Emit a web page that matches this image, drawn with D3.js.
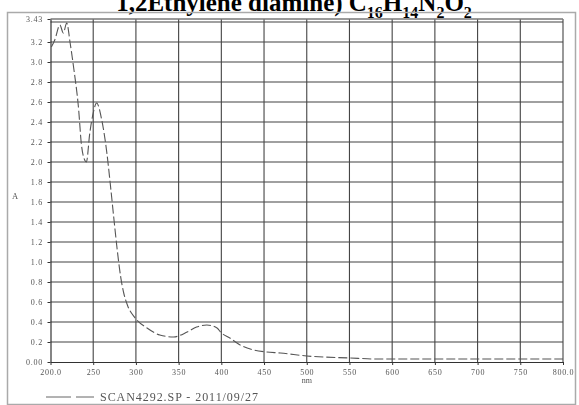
<!DOCTYPE html>
<html>
<head>
<meta charset="utf-8">
<script src="https://cdn.jsdelivr.net/npm/d3@7/dist/d3.min.js"></script>
<style>
  html, body { margin: 0; padding: 0; background: #fff; }
  svg { display: block; }
</style>
</head>
<body>
<svg id="chart" width="579" height="405"></svg>
<script>
// Absorbance spectrum, wavelength in nm
const wavelengths = [201, 205, 211, 215, 219, 223, 227, 233, 236, 240, 242, 246, 250, 254, 260, 266, 270,
  274, 278, 282, 286, 290, 299, 313, 328, 344, 360, 371, 383, 395, 399, 410, 422, 438, 453, 469, 500, 551, 582, 629,
  650, 700, 750, 800];
const absorbance = [3.15, 3.22, 3.37, 3.29, 3.39, 3.19, 2.95, 2.52, 2.19, 2.02, 2.00, 2.29, 2.49, 2.59, 2.42, 2.09, 1.78,
  1.45, 1.13, 0.86, 0.68, 0.57, 0.44, 0.34, 0.27, 0.25, 0.30, 0.35, 0.37, 0.34, 0.30, 0.24, 0.17, 0.12, 0.10, 0.09, 0.06, 0.04, 0.03, 0.03,
  0.03, 0.03, 0.03, 0.03];

const xTickValues = [200, 250, 300, 350, 400, 450, 500, 550, 600, 650, 700, 750, 800];
const xTickLabels = ["200.0", "250", "300", "350", "400", "450", "500", "550", "600", "650", "700", "750", "800.0"];
const yTickValues = [0, 0.2, 0.4, 0.6, 0.8, 1.0, 1.2, 1.4, 1.6, 1.8, 2.0, 2.2, 2.4, 2.6, 2.8, 3.0, 3.2, 3.43];
const yTickLabels = ["0.00", "0.2", "0.4", "0.6", "0.8", "1.0", "1.2", "1.4", "1.6", "1.8", "2.0", "2.2", "2.4", "2.6", "2.8", "3.0", "3.2", "3.43"];
const yGridValues = [0.2, 0.4, 0.6, 0.8, 1.0, 1.2, 1.4, 1.6, 1.8, 2.0, 2.2, 2.4, 2.6, 2.8, 3.0, 3.2, 3.4];

const legendLabel = "SCAN4292.SP - 2011/09/27";

const svg = d3.select("#chart");

const x = d3.scaleLinear().domain([200, 800]).range([50.5, 563]);
const y = d3.scaleLinear().domain([0, 3.43]).range([362, 19]);

// soft look of a scanned print
const defs = svg.append("defs");
defs.append("filter").attr("id", "soft")
  .append("feGaussianBlur").attr("stdDeviation", 0.45);

// title (partly above the top edge)
const title = svg.append("text")
  .attr("x", 294).attr("y", 11)
  .attr("text-anchor", "middle")
  .attr("font-family", "'Liberation Serif', 'Times New Roman', serif")
  .attr("font-weight", "bold")
  .attr("font-size", 25)
  .attr("fill", "#000");
title.append("tspan").text("1,2Ethylene diamine) C");
title.append("tspan").attr("font-size", 16).attr("dy", 7).text("16");
title.append("tspan").attr("dy", -7).text("H");
title.append("tspan").attr("font-size", 16).attr("dy", 7).text("14");
title.append("tspan").attr("dy", -7).text("N");
title.append("tspan").attr("font-size", 16).attr("dy", 7).text("2");
title.append("tspan").attr("dy", -7).text("O");
title.append("tspan").attr("font-size", 16).attr("dy", 7).text("2");

const g = svg.append("g").attr("filter", "url(#soft)");

// outer frame of the printout
g.append("rect")
  .attr("x", 7.5).attr("y", 12.5).attr("width", 568).attr("height", 392)
  .attr("fill", "none").attr("stroke", "#aaa").attr("stroke-width", 1.5);

// grid
g.append("g").selectAll("line").data(yGridValues).join("line")
  .attr("x1", x(200)).attr("x2", x(800))
  .attr("y1", d => y(d)).attr("y2", d => y(d))
  .attr("stroke", "#444").attr("stroke-width", 1.1);
g.append("g").selectAll("line").data(xTickValues.slice(1)).join("line")
  .attr("x1", d => x(d)).attr("x2", d => x(d))
  .attr("y1", y(3.43)).attr("y2", y(0))
  .attr("stroke", "#444").attr("stroke-width", 1.1);
// top edge
g.append("line")
  .attr("x1", x(200)).attr("x2", x(800)).attr("y1", y(3.43)).attr("y2", y(3.43))
  .attr("stroke", "#777").attr("stroke-width", 1.5);

// axes
const xAxis = d3.axisBottom(x).tickValues(xTickValues)
  .tickFormat((d, i) => xTickLabels[i]).tickSize(3).tickSizeOuter(0);
const yAxis = d3.axisLeft(y).tickValues(yTickValues)
  .tickFormat((d, i) => yTickLabels[i]).tickSize(3).tickSizeOuter(0);

const gx = g.append("g").attr("transform", `translate(0,${y(0)})`).call(xAxis);
const gy = g.append("g").attr("transform", `translate(${x(200)},0)`).call(yAxis);
[gx, gy].forEach(a => {
  a.select(".domain").attr("stroke", "#333").attr("stroke-width", 1.2);
  a.selectAll(".tick line").attr("stroke", "#333");
  a.selectAll(".tick text")
    .attr("font-family", "'Liberation Serif', 'Times New Roman', serif")
    .attr("font-size", 8)
    .attr("letter-spacing", 0.7)
    .attr("fill", "#555");
});
gx.selectAll(".tick text").attr("dy", "0.9em");
gy.selectAll(".tick text").attr("dx", "-0.2em");

// axis titles
g.append("text").attr("x", x(500)).attr("y", 383)
  .attr("text-anchor", "middle")
  .attr("font-family", "'Liberation Serif', serif").attr("font-size", 8).attr("fill", "#555")
  .text("nm");
g.append("text").attr("x", 15).attr("y", 199)
  .attr("text-anchor", "middle")
  .attr("font-family", "'Liberation Serif', serif").attr("font-size", 8.5).attr("fill", "#555")
  .text("A");

// spectrum trace
const pts = wavelengths.map((w, i) => [w, absorbance[i]]);
const line = d3.line().x(d => x(d[0])).y(d => y(d[1])).curve(d3.curveMonotoneX);
g.append("path").datum(pts)
  .attr("d", line)
  .attr("fill", "none")
  .attr("stroke", "#555")
  .attr("stroke-width", 1.1)
  .attr("stroke-dasharray", "9,3");

// legend
g.append("line").attr("x1", 46).attr("x2", 94).attr("y1", 397).attr("y2", 397)
  .attr("stroke", "#666").attr("stroke-width", 1).attr("stroke-dasharray", "25,5");
g.append("text").attr("x", 100).attr("y", 401)
  .attr("font-family", "'Liberation Serif', serif").attr("font-size", 12).attr("fill", "#555")
  .attr("textLength", 158).attr("lengthAdjust", "spacing")
  .text(legendLabel);
</script>
</body>
</html>
